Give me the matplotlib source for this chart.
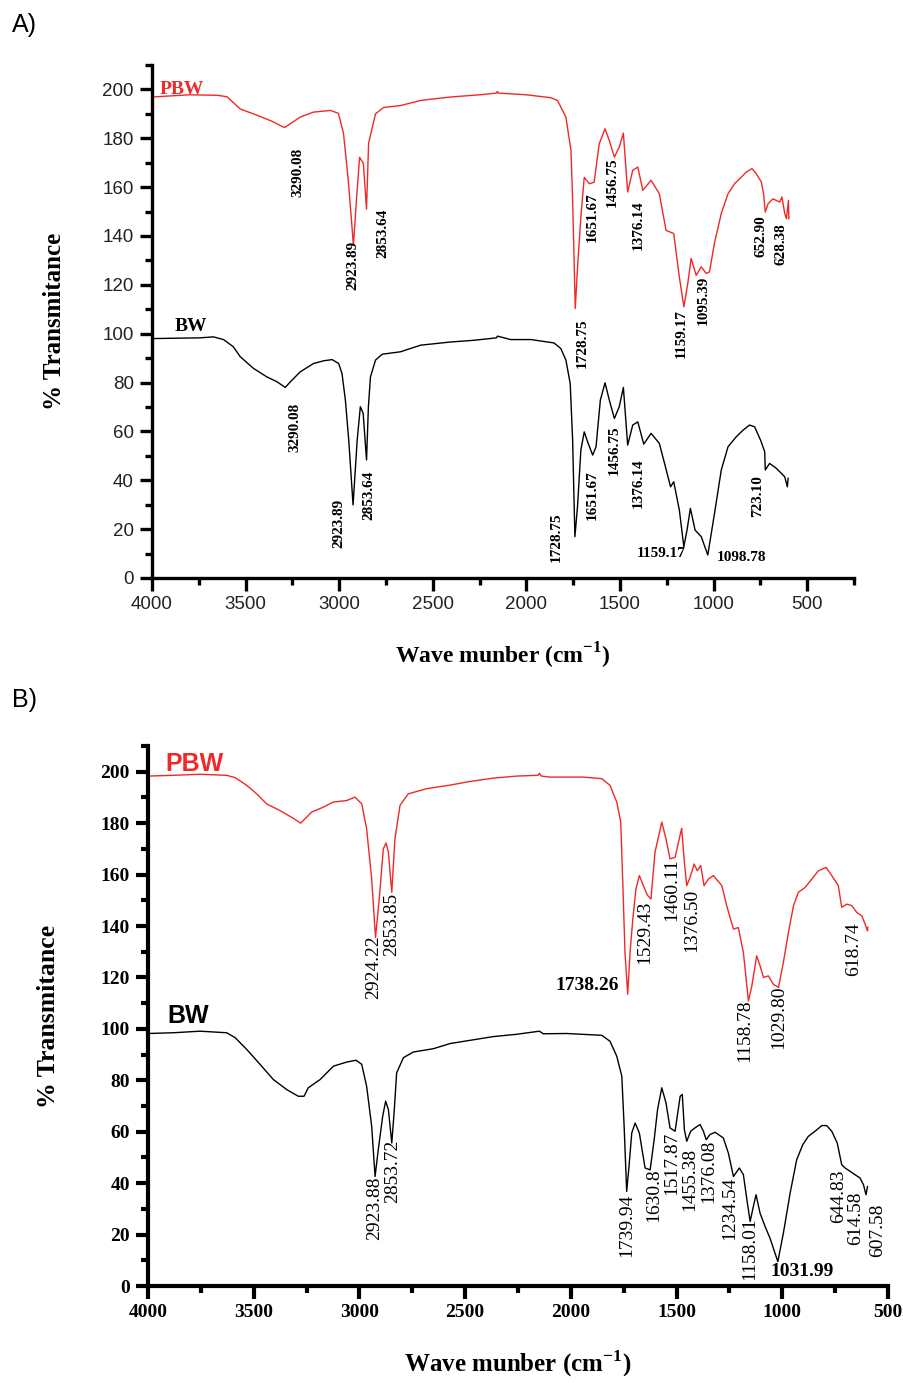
import matplotlib
matplotlib.use('Agg')
import matplotlib.pyplot as plt
from matplotlib.ticker import MultipleLocator

# ---- panel A data ----
a_pbw_wn = [4000, 3800, 3650, 3599, 3529, 3438, 3360, 3299, 3290, 3260, 3208, 3138, 3047, 3004, 2977,
            2950, 2924, 2908, 2891, 2871, 2854, 2843, 2806, 2763, 2672, 2565, 2405, 2250, 2160, 2155,
            2150, 2000, 1869, 1834, 1789, 1762, 1753, 1739, 1727, 1709, 1691, 1664, 1638, 1611, 1580,
            1557, 1530, 1504, 1482, 1459, 1432, 1405, 1378, 1334, 1290, 1254, 1213, 1183, 1159, 1138,
            1120, 1093, 1066, 1040, 1022, 996, 959, 923, 888, 852, 825, 795, 772, 745, 733,
            724, 709, 683, 647, 635, 620, 611, 600, 598]
a_pbw_t = [196.9, 197.8, 197.6, 197.0, 192.0, 189.4, 187.0, 184.6, 184.5, 186.0, 188.7, 190.7, 191.4, 190.2, 182.0,
           161.5, 136.2, 154.6, 172.2, 169.7, 151.0, 178.0, 190.0, 192.6, 193.4, 195.5, 196.9, 197.8, 198.5, 199.2,
           198.5, 197.8, 196.6, 195.5, 188.7, 175.0, 154.6, 110.3, 127.0, 147.8, 164.0, 161.4, 162.0, 177.7, 183.9,
           179.0, 172.3, 176.4, 182.1, 158.0, 166.9, 168.2, 158.7, 162.8, 157.3, 142.3, 141.0, 123.2, 111.0, 120.5,
           130.8, 123.9, 127.4, 124.7, 125.3, 136.9, 149.2, 157.3, 161.4, 164.1, 166.2, 167.6, 165.5, 162.1, 157.3,
           149.8, 153.2, 155.2, 153.9, 156.0, 149.2, 147.1, 154.6, 147.0]

a_bw_wn = [4000, 3743, 3672, 3618, 3565, 3529, 3458, 3386, 3332, 3288, 3261, 3208, 3137, 3083, 3038,
           3003, 2985, 2967, 2949, 2926, 2904, 2887, 2872, 2854, 2844, 2833, 2806, 2770, 2672, 2565,
           2405, 2280, 2160, 2155, 2084, 1976, 1852, 1816, 1789, 1766, 1753, 1741, 1727, 1709, 1691,
           1670, 1646, 1628, 1605, 1580, 1557, 1530, 1504, 1482, 1459, 1432, 1405, 1373, 1334, 1290,
           1262, 1230, 1213, 1183, 1159, 1142, 1124, 1099, 1066, 1031, 995, 959, 923, 879, 843,
           808, 781, 749, 727, 724, 701, 665, 638, 620, 606, 602]
a_bw_t = [98.0, 98.3, 98.7, 97.6, 94.6, 90.6, 85.8, 82.3, 80.3, 78.0, 80.3, 84.4, 87.8, 88.9, 89.4,
          87.8, 83.7, 72.8, 56.4, 29.9, 56.4, 70.1, 67.4, 48.3, 70.1, 82.3, 89.2, 91.6, 92.6, 95.3,
          96.6, 97.3, 98.3, 99.0, 97.6, 97.6, 96.2, 93.9, 89.2, 79.6, 56.4, 16.9, 29.2, 52.4, 59.8,
          55.1, 50.3, 53.7, 72.8, 79.9, 72.8, 65.3, 70.1, 78.0, 54.4, 62.6, 63.9, 54.8, 59.2, 55.1,
          46.9, 37.3, 39.4, 27.8, 12.8, 19.6, 28.5, 19.6, 16.9, 9.4, 26.5, 44.2, 53.7, 57.8, 60.5,
          62.6, 61.9, 56.4, 51.7, 44.2, 46.9, 44.9, 42.8, 41.4, 37.3, 40.8]

# peak labels: text, wavenumber, value at start of text
a_pbw_peaks = ['3290.08', '2923.89', '2853.64', '1728.75', '1651.67', '1456.75', '1376.14',
               '1159.17', '1095.39', '652.90', '628.38']
a_pbw_px = [3218, 2929, 2769, 1700, 1646, 1540, 1405, 1173, 1057, 749, 638]
a_pbw_py = [155.8, 117.8, 130.9, 85.9, 137.4, 151.7, 134.2, 90.0, 103.5, 131.3, 128.0]

a_bw_peaks = ['3290.08', '2923.89', '2853.64', '1728.75', '1651.67', '1456.75', '1376.14', '723.10']
a_bw_px = [3238, 3003, 2842, 1843, 1646, 1530, 1405, 763]
a_bw_py = [51.7, 12.1, 23.7, 6.7, 23.7, 42.1, 28.5, 25.1]
a_bw_flat = ['1159.17', '1098.78']
a_bw_fx = [1281, 852]
a_bw_fy = [10.2, 8.2]

# ---- panel B data ----
b_pbw_wn = [4000, 3880, 3754, 3628, 3588, 3533, 3486, 3439, 3376, 3313, 3278, 3226, 3171, 3124, 3060,
            3021, 2989, 2966, 2942, 2924, 2905, 2887, 2874, 2863, 2847, 2832, 2808, 2769, 2682, 2571,
            2477, 2367, 2256, 2155, 2149, 2140, 2098, 1941, 1854, 1815, 1783, 1764, 1755, 1744, 1731,
            1720, 1707, 1692, 1676, 1657, 1638, 1621, 1602, 1570, 1550, 1531, 1507, 1476, 1463, 1452,
            1436, 1417, 1402, 1386, 1370, 1349, 1326, 1286, 1263, 1231, 1208, 1184, 1160, 1144, 1121,
            1105, 1089, 1066, 1042, 1018, 995, 971, 947, 924, 892, 860, 829, 793, 766, 735,
            719, 695, 671, 648, 624, 608, 597, 596]
b_pbw_t = [198.3, 198.6, 199.0, 198.6, 197.7, 194.7, 191.4, 187.5, 184.9, 181.9, 180.0, 184.3, 186.2, 188.2, 188.8,
           190.1, 187.5, 177.8, 158.3, 135.5, 151.8, 170.0, 172.3, 168.7, 153.1, 173.9, 186.9, 191.4, 193.4, 194.8,
           196.2, 197.5, 198.3, 198.6, 199.4, 198.3, 197.9, 197.9, 197.3, 194.7, 188.2, 180.4, 158.3, 129.7, 113.5,
           129.7, 142.7, 154.4, 159.6, 155.7, 152.0, 150.5, 168.7, 180.4, 173.9, 166.1, 166.7, 178.0, 164.8, 155.7,
           158.9, 164.1, 161.5, 163.5, 155.7, 158.3, 159.6, 155.7, 147.9, 138.8, 139.4, 129.7, 110.8, 116.7, 128.4,
           124.5, 120.0, 120.6, 117.3, 116.1, 125.8, 137.5, 147.9, 153.1, 155.0, 158.3, 161.5, 162.8, 159.6, 155.7,
           147.3, 148.5, 147.9, 145.3, 144.0, 140.7, 138.1, 139.5]

b_bw_wn = [4000, 3880, 3754, 3628, 3588, 3533, 3470, 3407, 3344, 3289, 3262, 3242, 3186, 3123, 3060,
           3016, 2989, 2966, 2942, 2926, 2911, 2890, 2876, 2863, 2847, 2835, 2824, 2792, 2745, 2650,
           2571, 2367, 2256, 2149, 2130, 2020, 1854, 1815, 1783, 1759, 1748, 1736, 1725, 1712, 1696,
           1676, 1649, 1625, 1606, 1590, 1570, 1550, 1531, 1507, 1483, 1473, 1463, 1452, 1433, 1413,
           1389, 1373, 1360, 1342, 1318, 1279, 1255, 1231, 1203, 1184, 1165, 1152, 1137, 1124, 1105,
           1081, 1058, 1021, 995, 963, 932, 903, 877, 845, 813, 790, 766, 740, 719, 703,
           679, 656, 632, 616, 604, 597]
b_bw_t = [98.2, 98.5, 99.1, 98.5, 96.6, 92.0, 86.2, 80.3, 76.4, 73.8, 73.8, 77.1, 80.3, 85.5, 87.1,
          87.8, 86.2, 77.7, 62.1, 42.6, 53.0, 66.0, 71.9, 68.6, 55.6, 68.6, 82.9, 88.8, 91.0, 92.3,
          94.3, 97.0, 97.9, 99.1, 98.1, 98.2, 97.5, 95.2, 89.4, 81.6, 62.1, 36.8, 46.5, 59.5, 63.4,
          59.5, 45.9, 45.2, 56.9, 68.6, 77.1, 71.2, 61.5, 60.2, 73.8, 74.5, 60.8, 56.3, 60.2, 61.5,
          62.8, 60.2, 56.9, 58.9, 59.8, 57.6, 51.7, 42.6, 45.9, 43.3, 32.2, 25.1, 30.9, 35.5, 28.3,
          23.1, 18.6, 9.5, 20.5, 36.1, 49.1, 55.0, 58.2, 60.2, 62.4, 62.4, 60.2, 55.6, 47.2, 45.9,
          44.6, 43.3, 42.0, 39.4, 35.5, 38.7]

b_pbw_peaks = ['2924.22', '2853.85', '1529.43', '1460.11', '1376.50', '1158.78', '1029.80', '618.74']
b_pbw_px = [2934, 2847, 1649, 1523, 1428, 1176, 1018, 664]
b_pbw_py = [111.5, 128.4, 125.1, 142.0, 129.7, 87.0, 92.0, 120.6]
b_pbw_flat = ['1738.26']
b_pbw_fx = [1922]
b_pbw_fy = [116.7]

b_bw_peaks = ['2923.88', '2853.72', '1739.94', '1630.8', '1517.87', '1455.38', '1376.08', '1234.54',
              '1158.01', '644.83', '614.58', '607.58']
b_bw_px = [2926, 2843, 1736, 1610, 1523, 1436, 1350, 1250, 1152, 735, 651, 548]
b_bw_py = [17.9, 32.2, 11.4, 25.1, 35.5, 29.0, 32.2, 17.9, 2.3, 24.4, 16.0, 11.4]
b_bw_flat = ['1031.99']
b_bw_fx = [908]
b_bw_fy = [5.6]

RED = '#f02828'
SERIF = 'Liberation Serif'

fig = plt.figure(figsize=(9.04, 13.83), dpi=100)


def style_axes(ax, xmin, lw, tick_font):
    ax.set_xlim(4000, xmin)
    ax.set_ylim(0, 210)
    for s in ['top', 'right']:
        ax.spines[s].set_visible(False)
    for s in ['left', 'bottom']:
        ax.spines[s].set_linewidth(lw)
    ax.xaxis.set_major_locator(MultipleLocator(500))
    ax.xaxis.set_minor_locator(MultipleLocator(250))
    ax.yaxis.set_major_locator(MultipleLocator(20))
    ax.yaxis.set_minor_locator(MultipleLocator(10))
    ax.tick_params(which='major', direction='out', length=9, width=lw, pad=4)
    ax.tick_params(which='minor', direction='out', length=5, width=lw)
    for lab in ax.get_xticklabels() + ax.get_yticklabels():
        lab.set_fontproperties(tick_font)


# ---- panel A ----
axA = fig.add_axes([152 / 904, 0.5821, 702 / 904, 0.3709])
axA.plot(a_pbw_wn, a_pbw_t, color=RED, lw=1.0)
axA.plot(a_bw_wn, a_bw_t, color='black', lw=1.0)
style_axes(axA, 250, 2.4, {'family': 'Liberation Sans', 'size': 13.5})
axA.tick_params(labelcolor='#222222')
axA.set_ylabel('% Transmitance', fontsize=18, fontweight='bold', family=SERIF, labelpad=26)
axA.set_xlabel('Wave munber (cm$^{\\mathregular{-1}}$)', fontsize=17, fontweight='bold', family=SERIF, labelpad=20)

for s, x, y in zip(a_pbw_peaks, a_pbw_px, a_pbw_py):
    axA.text(x, y, s, rotation=90, ha='center', va='bottom', fontsize=11, fontweight='bold', family=SERIF)
for s, x, y in zip(a_bw_peaks, a_bw_px, a_bw_py):
    axA.text(x, y, s, rotation=90, ha='center', va='bottom', fontsize=11, fontweight='bold', family=SERIF)
for s, x, y in zip(a_bw_flat, a_bw_fx, a_bw_fy):
    axA.text(x, y, s, ha='center', va='center', fontsize=11, fontweight='bold', family=SERIF)

axA.text(3960, 200, 'PBW', color=RED, fontsize=14, fontweight='bold', family=SERIF, va='center')
axA.text(3880, 103, 'BW', color='black', fontsize=14, fontweight='bold', family=SERIF, va='center')

# ---- panel B ----
axB = fig.add_axes([148 / 904, 0.0701, 740 / 904, 0.3905])
axB.plot(b_pbw_wn, b_pbw_t, color=RED, lw=1.0)
axB.plot(b_bw_wn, b_bw_t, color='black', lw=1.0)
style_axes(axB, 500, 3.0, {'family': SERIF, 'size': 14, 'weight': 'bold'})
axB.set_ylabel('% Transmitance', fontsize=18.5, fontweight='bold', family=SERIF, labelpad=29)
axB.set_xlabel('Wave munber (cm$^{\\mathregular{-1}}$)', fontsize=18, fontweight='bold', family=SERIF, labelpad=20)

for s, x, y in zip(b_pbw_peaks, b_pbw_px, b_pbw_py):
    axB.text(x, y, s, rotation=90, ha='center', va='bottom', fontsize=14, family=SERIF)
for s, x, y in zip(b_pbw_flat, b_pbw_fx, b_pbw_fy):
    axB.text(x, y, s, ha='center', va='center', fontsize=14, fontweight='bold', family=SERIF)
for s, x, y in zip(b_bw_peaks, b_bw_px, b_bw_py):
    axB.text(x, y, s, rotation=90, ha='center', va='bottom', fontsize=14, family=SERIF)
for s, x, y in zip(b_bw_flat, b_bw_fx, b_bw_fy):
    axB.text(x, y, s, ha='center', va='center', fontsize=14, fontweight='bold', family=SERIF)

axB.text(3920, 203, 'PBW', color=RED, fontsize=18, fontweight='bold', family='Liberation Sans', va='center')
axB.text(3910, 105, 'BW', color='black', fontsize=18, fontweight='bold', family='Liberation Sans', va='center')

# panel letters
fig.text(12 / 904, 1 - 25 / 1383, 'A)', fontsize=18, family='Liberation Sans', va='center')
fig.text(12 / 904, 1 - 700 / 1383, 'B)', fontsize=18, family='Liberation Sans', va='center')

fig.savefig('out.png', dpi=100)
